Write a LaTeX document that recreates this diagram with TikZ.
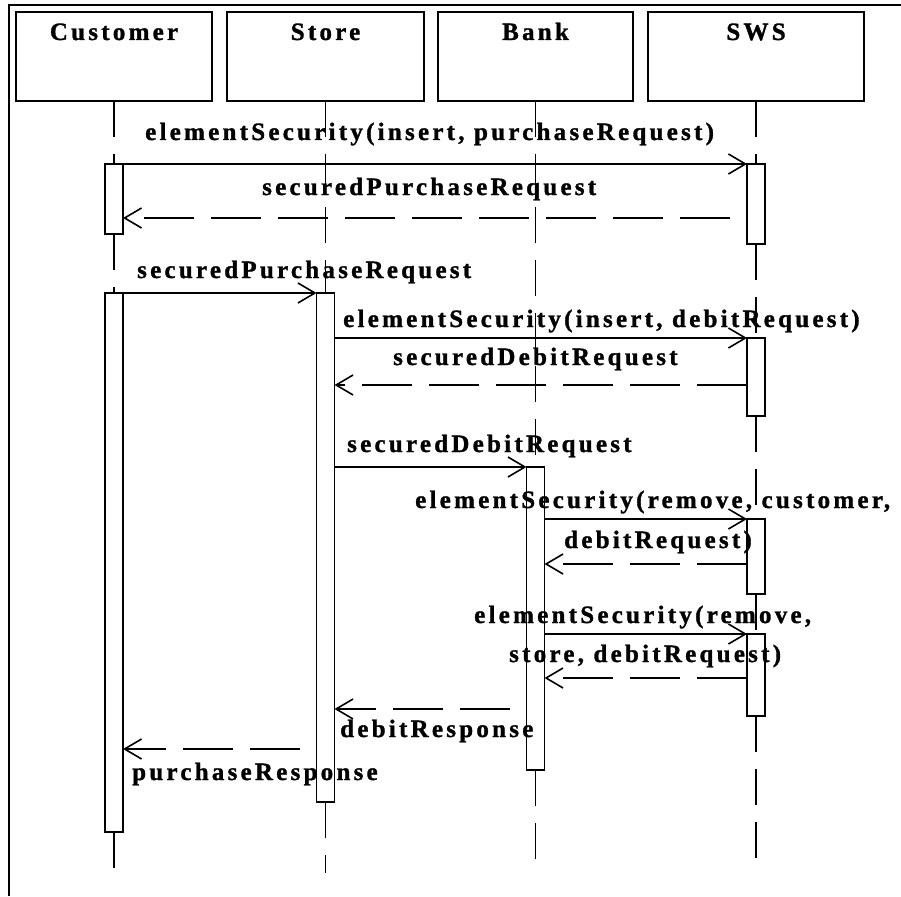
\documentclass[tikz,border=0pt]{standalone}
\usepackage{fontspec}
\setmainfont{Liberation Serif}
\newfontfamily\seqfont[LetterSpace=13,FakeBold=1.2]{Liberation Serif}
\usetikzlibrary{arrows.meta,calc}
\begin{document}
\begin{tikzpicture}[x=1pt,y=-1pt,
  frameline/.style={line width=2pt},
  objbox/.style={draw, line width=2.2pt, minimum height=89pt, inner sep=0pt, outer sep=0pt},
  act/.style={draw, fill=white, line width=1.7pt, minimum width=18pt, inner sep=0pt, outer sep=0pt},
  life/.style={line width=1.9pt, dash pattern=on 36pt off 17pt},
  call/.style={line width=1.6pt, -{Straight Barb[length=17pt,width=20pt,line width=1.6pt]}},
  reply/.style={call, dash pattern=on 50pt off 17pt},
  replygap/.style={reply, dash phase=50pt},
  txt/.style={font=\seqfont\bfseries\fontsize{25pt}{30pt}\selectfont, inner sep=0pt, anchor=base west},
  hdr/.style={txt, anchor=base},
]
\useasboundingbox (0,0) rectangle (901,896);

% outer frame (open to the right and bottom)
\coordinate (fTL) at (9,5);
\coordinate (fTR) at (901,5);
\coordinate (fBL) at (9,896);
\draw[frameline] (fTR) -- (fTL) -- (fBL);

% object boxes
\node[objbox, minimum width=196pt] (cust) at (114,56.5) {};
\node[objbox, minimum width=197pt] (store) at (325.5,56.5) {};
\node[objbox, minimum width=195pt] (bank) at (535.5,56.5) {};
\node[objbox, minimum width=216pt] (sws) at (756,56.5) {};
\node[hdr] (custT) at (114,40) {Customer};
\node[hdr] (storeT) at (325.5,40) {Store};
\node[hdr] (bankT) at (535.5,40) {Bank};
\node[hdr] (swsT) at (756,40) {SWS};

% activations
\node[act, minimum height=70pt] (C1) at (114,199) {};
\node[act, minimum height=80pt] (W1) at (756,204) {};
\node[act, minimum height=539pt] (C2) at (114,562.5) {};
\node[act, minimum height=509pt] (S1) at (325.5,547.5) {};
\node[act, minimum height=78pt] (W2) at (756,377) {};
\node[act, minimum height=303pt] (B1) at (535.5,618.5) {};
\node[act, minimum height=75pt] (W3) at (756,556.5) {};
\node[act, minimum height=82pt] (W4) at (756,675) {};

% lifeline ends
\coordinate (cEnd) at (114,873);
\coordinate (sEnd) at (325.5,873);
\coordinate (bEnd) at (535.5,873);
\coordinate (wEnd) at (756,873);

% lifelines
\draw[life] (cust.south) -- (C1.north);
\draw[life] (C1.south) -- (C2.north);
\draw[life] (C2.south) -- (cEnd);
\draw[life] (store.south) -- (S1.north);
\draw[life] (S1.south) -- (sEnd);
\draw[life] (bank.south) -- (B1.north);
\draw[life] (B1.south) -- (bEnd);
\draw[life] (sws.south) -- (W1.north);
\draw[life] (W1.south) -- (W2.north);
\draw[life] (W2.south) -- (W3.north);
\draw[life] (W3.south) -- (W4.north);
\draw[life] (W4.south) -- (wEnd);

% activation bars above the lifelines
\foreach \a in {C1,W1,C2,S1,W2,B1,W3,W4}{
  \draw[line width=1.7pt, fill=white] (\a.north west) rectangle (\a.south east);
}

% message levels
\coordinate (y2) at (0,218);
\coordinate (y5) at (0,385);
\coordinate (y8) at (0,564);
\coordinate (y10) at (0,678);
\coordinate (y11) at (0,709);
\coordinate (y12) at (0,749);

% messages
\draw[call] (C1.north east) -- (W1.north west);
\draw[replygap] (W1.west |- y2) -- (C1.east |- y2);
\draw[call] (C2.north east) -- (S1.north west);
\draw[call] (S1.east |- W2.north) -- (W2.north west);
\draw[reply] (W2.west |- y5) -- (S1.east |- y5);
\draw[call] (S1.east |- B1.north) -- (B1.north west);
\draw[call] (B1.east |- W3.north) -- (W3.north west);
\draw[reply] (W3.west |- y8) -- (B1.east |- y8);
\draw[call] (B1.east |- W4.north) -- (W4.north west);
\draw[reply] (W4.west |- y10) -- (B1.east |- y10);
\draw[replygap] (B1.west |- y11) -- (S1.east |- y11);
\draw[replygap] (S1.west |- y12) -- (C2.east |- y12);

% message labels
\node[txt] (t1) at (145,140) {elementSecurity(insert, purchaseRequest)};
\node[txt] (t2) at (262,195) {securedPurchaseRequest};
\node[txt] (t3) at (137,278) {securedPurchaseRequest};
\node[txt] (t4) at (343,327) {elementSecurity(insert, debitRequest)};
\node[txt] (t5) at (393,365) {securedDebitRequest};
\node[txt] (t6) at (347,452) {securedDebitRequest};
\node[txt] (t7) at (415,508) {elementSecurity(remove, customer,};
\node[txt] (t8) at (564,548) {debitRequest)};
\node[txt] (t9) at (474,623) {elementSecurity(remove,};
\node[txt] (t10) at (509,662) {store, debitRequest)};
\node[txt] (t11) at (340,737) {debitResponse};
\node[txt] (t12) at (132,780) {purchaseResponse};
\end{tikzpicture}
\end{document}
